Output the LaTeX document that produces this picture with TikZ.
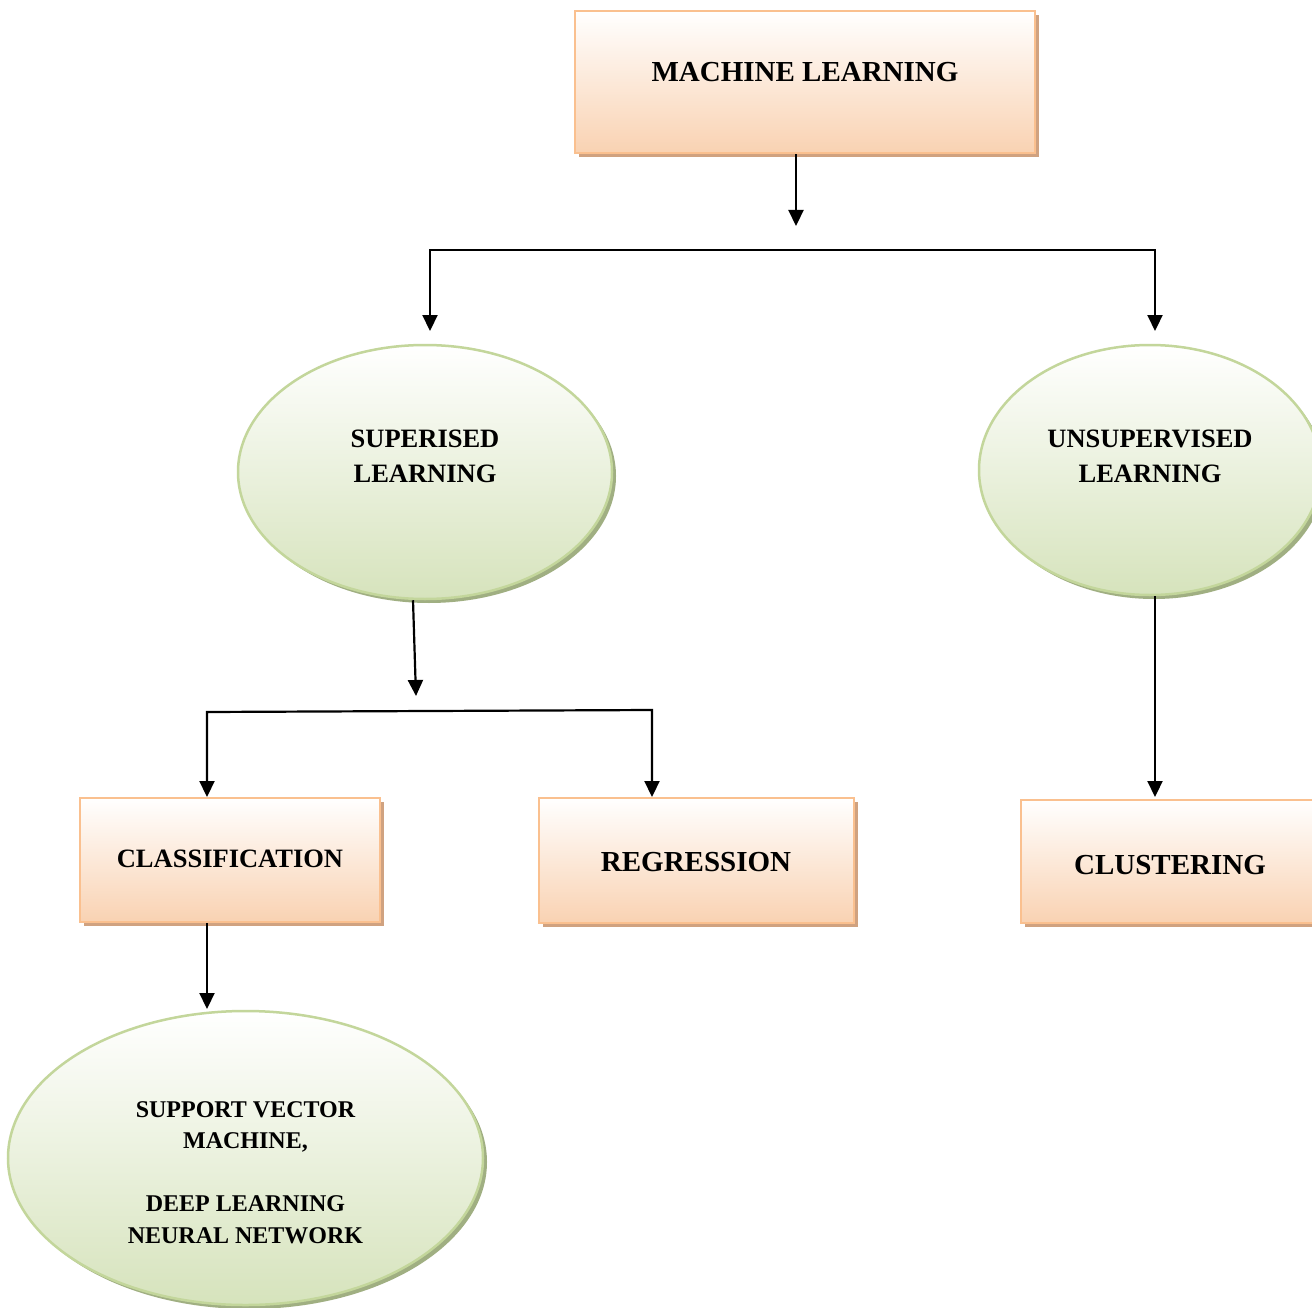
\documentclass[tikz,border=0pt]{standalone}
\usepackage{fontspec}
\setmainfont{Liberation Serif}
\usetikzlibrary{shapes.geometric,shadows,arrows.meta}

\definecolor{boxedge}{RGB}{250,192,143}
\definecolor{boxbot}{RGB}{249,210,178}
\definecolor{boxshade}{RGB}{208,162,128}
\definecolor{ovaledge}{RGB}{195,214,155}
\definecolor{ovalbot}{RGB}{214,227,188}
\definecolor{ovalshade}{RGB}{160,175,130}

\tikzset{
  box/.style={rectangle, draw=boxedge, line width=2.5pt, inner sep=0pt,
    top color=white, bottom color=boxbot,
    drop shadow={shadow xshift=4pt, shadow yshift=-4pt, fill=boxshade, opacity=1}},
  oval/.style={ellipse, draw=ovaledge, line width=2.5pt, inner sep=0pt,
    top color=white, bottom color=ovalbot,
    drop shadow={shadow xshift=4pt, shadow yshift=-4pt, fill=ovalshade, opacity=1}},
  conn/.style={line width=2.2pt, draw=black},
  arr/.style={conn, -{Triangle[length=16pt,width=15pt]}},
  forkarr/.style={conn, {Triangle[length=16pt,width=15pt]}-{Triangle[length=16pt,width=15pt]}},
  lbl/.style={font=\bfseries, align=center, anchor=base, inner sep=0pt, text=black},
  big/.style={lbl, font=\bfseries\fontsize{29}{35}\selectfont},
  mid/.style={lbl, font=\bfseries\fontsize{26.5}{34.5}\selectfont},
  small/.style={lbl, font=\bfseries\fontsize{24}{31.5}\selectfont},
}

\begin{document}
\begin{tikzpicture}[x=1pt, y=-1pt]
  \useasboundingbox (0,0) rectangle (1312,1308);
  \fill[white] (0,0) rectangle (1312,1308);

  % boxes
  \node[box, minimum width=460pt, minimum height=142pt] (ml) at (805,82) {};
  \node[box, minimum width=300pt, minimum height=124pt] (cls) at (230,860) {};
  \node[box, minimum width=315pt, minimum height=125pt] (reg) at (696.5,860.5) {};
  \node[box, minimum width=298pt, minimum height=123pt] (clu) at (1170,861.5) {};

  % ovals
  \node[oval, minimum width=374pt, minimum height=254pt] (sup) at (425,472) {};
  \node[oval, minimum width=342pt, minimum height=250pt] (uns) at (1150,470) {};
  \node[oval, minimum width=475pt, minimum height=294pt] (svm) at (245.5,1158) {};

  % labels (base anchor = baseline of the last line)
  \node[big] (mlt) at (805,82) {MACHINE LEARNING};
  \node[mid] (supt) at (425,482) {SUPERISED\\LEARNING};
  \node[mid] (unst) at (1150,482) {UNSUPERVISED\\LEARNING};
  \node[mid] (clst) at (230,867) {CLASSIFICATION};
  \node[big] (regt) at (696,871) {REGRESSION};
  \node[big] (clut) at (1170,874) {CLUSTERING};
  \node[small] (svmt) at (245.5,1243) {SUPPORT VECTOR\\MACHINE,\\[31.5pt]DEEP LEARNING\\NEURAL NETWORK};

  % connector points
  \coordinate (a1) at (796,226);
  \coordinate (t1l) at (430,331);
  \coordinate (b1l) at (430,250);
  \coordinate (b1r) at (1155,250);
  \coordinate (t1r) at (1155,331);
  \coordinate (a2) at (416,696);
  \coordinate (t2l) at (207,797);
  \coordinate (b2l) at (207,712);
  \coordinate (b2r) at (652,710);
  \coordinate (t2r) at (652,797);
  \coordinate (t3) at (1155,797);
  \coordinate (t4) at (207,1009);

  % connectors
  \draw[arr] (ml.south -| a1) -- (a1);
  \draw[forkarr] (t1l) -- (b1l) -- (b1r) -- (t1r);
  \draw[arr] ([xshift=-12pt]sup.south) -- (a2);
  \draw[forkarr] (t2l) -- (b2l) -- (b2r) -- (t2r);
  \draw[arr] ([xshift=5pt]uns.south) -- (t3);
  \draw[arr] (cls.south -| t4) -- (t4);
\end{tikzpicture}
\end{document}
